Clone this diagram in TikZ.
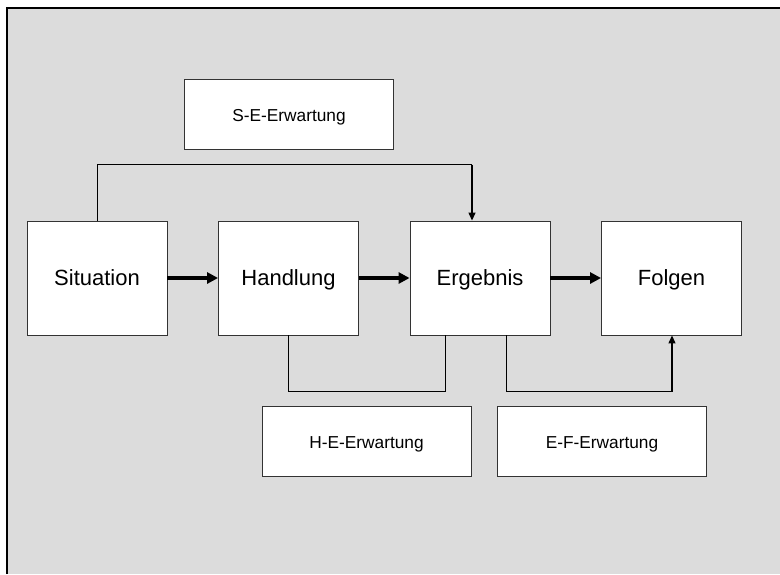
\documentclass[tikz,border=0pt]{standalone}
\usepackage{fontspec}
\setmainfont{Liberation Sans}
\usetikzlibrary{arrows.meta}
\definecolor{bg}{HTML}{DCDCDC}
\begin{document}
\begin{tikzpicture}[x=1pt,y=-1pt,
  bigbox/.style={draw=black!80,line width=0.9pt,fill=white,minimum width=140pt,minimum height=114pt,inner sep=0pt,text height=15.8pt,text depth=0pt,font=\fontsize{22}{25}\selectfont},
  expbox/.style={draw=black!80,line width=0.9pt,fill=white,minimum width=209pt,minimum height=70pt,inner sep=0pt,text height=14.5pt,text depth=0pt,font=\fontsize{17.3}{20}\selectfont},
  thinline/.style={line width=1pt,black},
  thinarrow/.style={line width=1.3pt,black,-{Triangle[length=8pt,width=7pt]}},
  thickarrow/.style={line width=4pt,black,-{Triangle[length=11pt,width=11pt]}}]
\useasboundingbox (0,0) rectangle (780,574);
\fill[bg] (7,8) rectangle (780,574);
\draw[line width=1.5pt,black] (7,574) -- (7,8) -- (780,8);
% main boxes
\node[bigbox] (sit) at (97,278) {Situation};
\node[bigbox] (hand) at (288.5,278) {Handlung};
\node[bigbox] (erg) at (480,278) {Ergebnis};
\node[bigbox] (fol) at (671.5,278) {Folgen};
% expectation boxes
\node[expbox] (se) at (289,114) {S-E-Erwartung};
\node[expbox] (he) at (366.5,441.5) {H-E-Erwartung};
\node[expbox] (ef) at (602,441.5) {E-F-Erwartung};
% thick arrows
\draw[thickarrow] (sit.east) -- (hand.west);
\draw[thickarrow] (hand.east) -- (erg.west);
\draw[thickarrow] (erg.east) -- (fol.west);
% S-E connector
\coordinate (a1) at (97,164.5);
\coordinate (a2) at (472,164.5);
\draw[thinline] (sit.north) -- (a1) -- (a2);
\draw[thinarrow] (a2) -- (a2 |- erg.north);
% H-E bracket
\coordinate (b1) at (288.5,391.5);
\coordinate (b2) at (445.5,391.5);
\draw[thinline] (hand.south) -- (b1) -- (b2) -- (b2 |- erg.south);
% E-F bracket
\coordinate (c1) at (506.5,391.5);
\coordinate (c2) at (672,391.5);
\draw[thinline] (c1 |- erg.south) -- (c1) -- (c2);
\draw[thinarrow] (c2) -- (c2 |- fol.south);
\end{tikzpicture}
\end{document}
